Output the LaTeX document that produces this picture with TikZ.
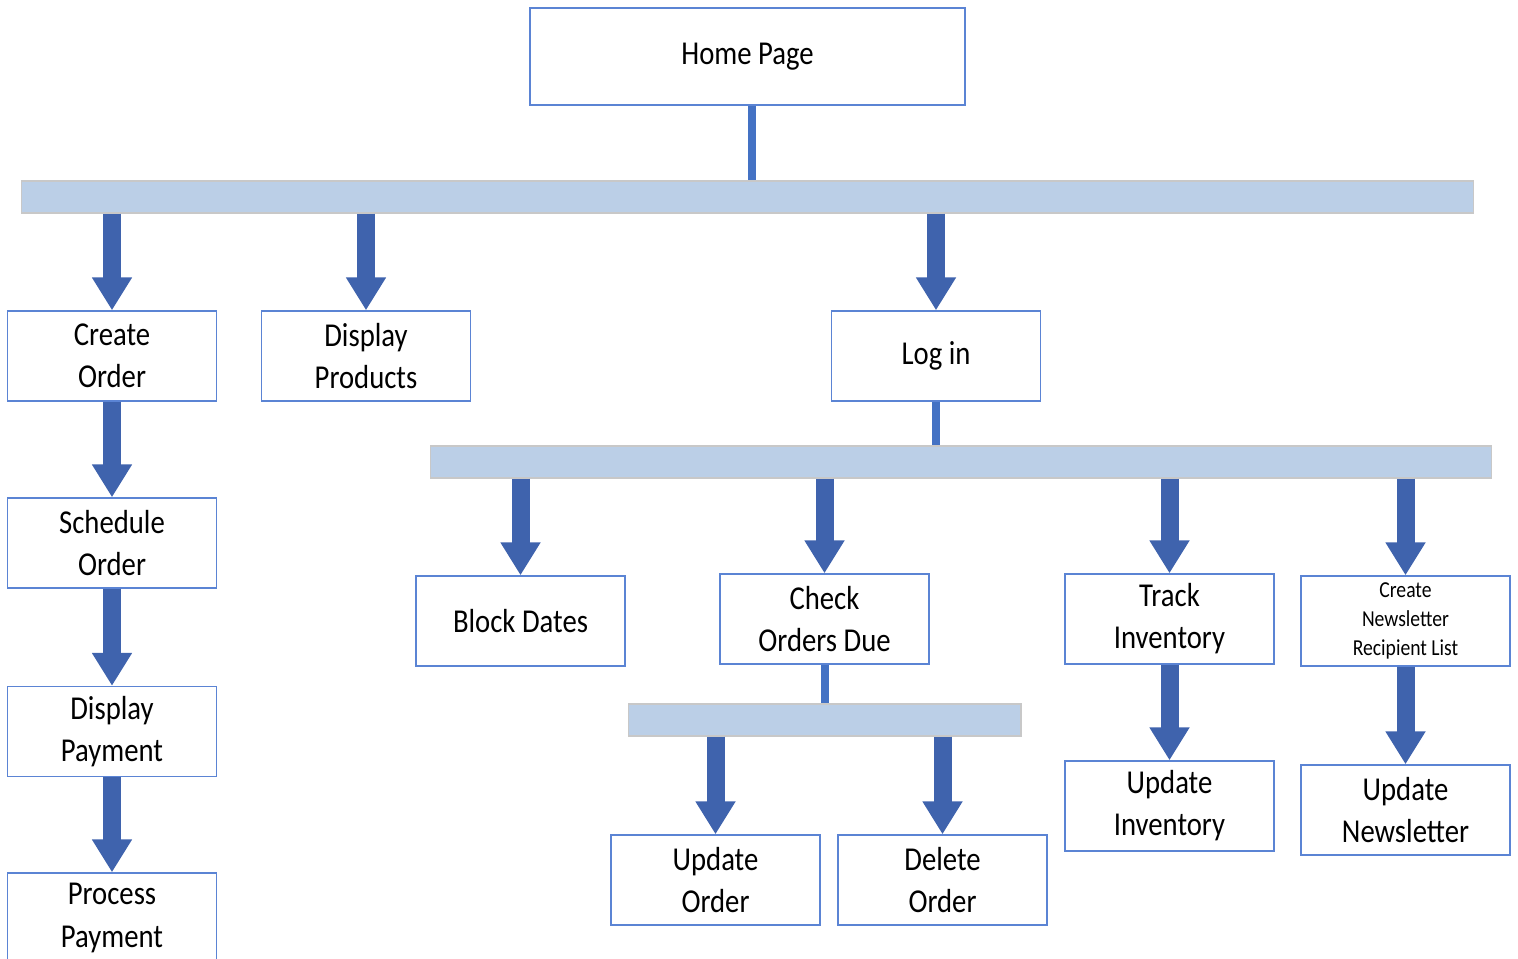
\documentclass[tikz,border=0pt]{standalone}
\usepackage{fontspec}
\setmainfont{Carlito}[FakeStretch=0.86]
\usetikzlibrary{arrows.meta}
\definecolor{boxblue}{HTML}{5B84D4}
\definecolor{arrowblue}{HTML}{3F63AD}
\definecolor{stemblue}{HTML}{4472C4}
\definecolor{barfill}{HTML}{BBCFE7}
\definecolor{bargray}{HTML}{C8C8C8}
\tikzset{
  page/.style={draw=boxblue, line width=0.8pt, fill=white, minimum width=4.18cm,
    minimum height=1.8cm, inner sep=0pt, align=center, font=\fontsize{19}{24}\selectfont},
  bar/.style={fill=barfill, draw=bargray, line width=0.6pt, inner sep=0pt, minimum height=0.64cm},
  flow/.style={arrowblue, line width=0.36cm, -{Triangle[width=0.76cm,length=0.66cm]}},
  stem/.style={stemblue, line width=0.16cm},
}

\begin{document}
\begin{tikzpicture}[x=0.02cm, y=-0.02cm]
    \useasboundingbox (0,0) rectangle (1518,959);

    \node[page, minimum width=8.7cm, minimum height=1.94cm] (home) at (747.5,56.5) {Home Page};
    \node[bar, minimum width=29.06cm] (bar1) at (747.5,197) {};
    \coordinate (hs) at ([xshift=0.09cm]home.south);

    \node[page] (create) at (112,356) {Create\\Order};
    \node[page] (sched) at (112,543) {Schedule\\Order};
    \node[page] (dpay) at (112,731.5) {Display\\Payment};
    \node[page] (ppay) at (112,918) {Process\\Payment};
    \node[page] (dprod) at (366,356) {Display\\Products};
    \node[page] (login) at (936,356) {Log in};

    \node[bar, minimum width=21.24cm] (bar2) at (961,462) {};

    \node[page] (block) at (520.5,621) {Block Dates};
    \node[page] (check) at (824.5,619) {Check\\Orders Due};
    \node[page] (track) at (1169.5,619) {Track\\Inventory};
    \node[page, font=\fontsize{13}{16.5}\selectfont] (news) at (1405.5,621) {Create\\Newsletter\\Recipient List};

    \node[bar, minimum width=7.86cm] (bar3) at (824.5,720) {};

    \node[page] (uorder) at (715.5,880) {Update\\Order};
    \node[page] (dorder) at (942.5,880) {Delete\\Order};
    \node[page] (uinv) at (1169.5,806) {Update\\Inventory};
    \node[page] (unews) at (1405.5,810) {Update\\Newsletter};

    % stems into the bars
    \draw[stem] (hs) -- (hs |- bar1.north);
    \draw[stem] (login) -- (login |- bar2.north);
    \draw[stem] (check) -- (check |- bar3.north);

    % arrows out of the bars
    \foreach \n in {create,dprod,login}
      \draw[flow] (bar1.south -| \n) -- (\n);
    \foreach \n in {block,check,track,news}
      \draw[flow] (bar2.south -| \n) -- (\n);
    \foreach \n in {uorder,dorder}
      \draw[flow] (bar3.south -| \n) -- (\n);

    % arrows between pages
    \draw[flow] (create) -- (sched);
    \draw[flow] (sched) -- (dpay);
    \draw[flow] (dpay) -- (ppay);
    \draw[flow] (track) -- (uinv);
    \draw[flow] (news) -- (unews);
\end{tikzpicture}
\end{document}
